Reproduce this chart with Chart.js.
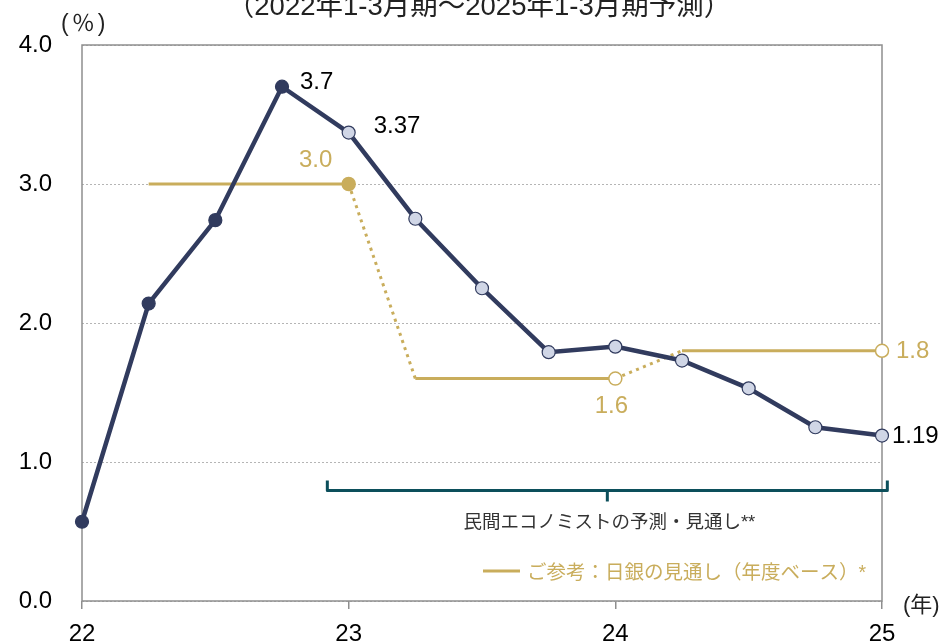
<!DOCTYPE html>
<html>
<head>
<meta charset="utf-8">
<script src="https://cdn.jsdelivr.net/npm/chart.js@4/dist/chart.umd.min.js"></script>
<style>
html,body{margin:0;padding:0;background:#fff;}
#wrap{width:945px;height:643px;position:relative;}
</style>
</head>
<body>
<div id="wrap"><canvas id="c" width="945" height="643"></canvas></div>
<script>
// ---- data ----
const titleText = "（2022年1-3月期～2025年1-3月期予測）";
const quarters = [22, 22.25, 22.5, 22.75, 23, 23.25, 23.5, 23.75, 24, 24.25, 24.5, 24.75, 25];
const econValues = [0.57, 2.14, 2.74, 3.70, 3.37, 2.75, 2.25, 1.79, 1.83, 1.73, 1.53, 1.25, 1.19];
const actualCount = 4; // first 4 points are actual results
const econLabelIdx = [3, 4, 12];
const bojX = [22.25, 23, 23.25, 24, 24.25, 25];
const bojValues = [3.0, 3.0, 1.6, 1.6, 1.8, 1.8];
const bojLabelIdx = [1, 3, 5];
const yTicks = [0, 1, 2, 3, 4];
const xTicks = [22, 23, 24, 25];
const yUnit = "(％)";
const xUnit = "(年)";
const bracketText = "民間エコノミストの予測・見通し**";
const legendText = "ご参考：日銀の見通し（年度ベース）*";

// ---- styles ----
const NAVY = "#313b5e";
const LIGHT = "#d0d6e6";
const GOLD = "#c9ad5c";
const TEAL = "#0c4f5b";
const AXIS = "#8e8e8e";
const LATIN = "'Liberation Sans', Arial, sans-serif";
const CJK = "'Liberation Sans', 'Noto Sans CJK JP', sans-serif";

const econData = quarters.map((q, i) => ({x: q, y: econValues[i]}));
const bojData = bojX.map((q, i) => ({x: q, y: bojValues[i]}));

const annot = {
  id: 'annot',
  beforeDatasetsDraw(chart) {
    const {ctx, chartArea: a} = chart;
    ctx.save();
    ctx.strokeStyle = AXIS;
    ctx.lineWidth = 1.5;
    ctx.strokeRect(a.left, a.top, a.right - a.left, a.bottom - a.top);
    ctx.restore();
  },
  afterDatasetsDraw(chart) {
    const {ctx} = chart;
    const xs = chart.scales.x, ys = chart.scales.y;
    ctx.save();
    // title
    ctx.fillStyle = "#222";
    ctx.font = "27.5px " + CJK;
    ctx.textAlign = "center";
    ctx.textBaseline = "alphabetic";
    ctx.fillText(titleText, 479, 15);
    // units
    ctx.font = "23px " + CJK;
    ctx.textAlign = "left";
    ctx.letterSpacing = "3px";
    ctx.fillText(yUnit, 61, 31);
    ctx.letterSpacing = "0px";
    ctx.font = "22px " + CJK;
    ctx.fillText(xUnit, 903, 612);

    // econ labels
    ctx.fillStyle = "#000";
    ctx.font = "24px " + LATIN;
    const econOff = {3: [18, 2, 'left'], 4: [25, 0, 'left'], 12: [10, 7, 'left']};
    econLabelIdx.forEach(i => {
      const px = xs.getPixelForValue(quarters[i]), py = ys.getPixelForValue(econValues[i]);
      const o = econOff[i];
      ctx.textAlign = o[2];
      ctx.fillText(String(econValues[i]), px + o[0], py + o[1]);
    });
    // boj labels
    ctx.fillStyle = GOLD;
    const bojOff = {1: [-33, -17, 'center'], 3: [-4, 34, 'center'], 5: [14, 7, 'left']};
    bojLabelIdx.forEach(i => {
      const px = xs.getPixelForValue(bojX[i]), py = ys.getPixelForValue(bojValues[i]);
      const o = bojOff[i];
      ctx.textAlign = o[2];
      ctx.fillText(bojValues[i].toFixed(1), px + o[0], py + o[1]);
    });

    // bracket
    const bl = xs.getPixelForValue(22.92), br = xs.getPixelForValue(25.02), bm = xs.getPixelForValue(23.97);
    const by = ys.getPixelForValue(0.795);
    ctx.strokeStyle = TEAL;
    ctx.lineWidth = 3;
    ctx.lineJoin = "round";
    ctx.beginPath();
    ctx.moveTo(bl, by - 10);
    ctx.lineTo(bl, by);
    ctx.lineTo(br, by);
    ctx.lineTo(br, by - 10);
    ctx.stroke();
    ctx.beginPath();
    ctx.moveTo(bm, by);
    ctx.lineTo(bm, by + 11);
    ctx.stroke();
    ctx.fillStyle = "#333";
    ctx.font = "18.5px " + CJK;
    ctx.textAlign = "center";
    ctx.fillText(bracketText, bm + 2, by + 38);

    // legend
    ctx.strokeStyle = GOLD;
    ctx.lineWidth = 3;
    ctx.beginPath();
    ctx.moveTo(483, 571);
    ctx.lineTo(520, 571);
    ctx.stroke();
    ctx.fillStyle = GOLD;
    ctx.font = "19.5px " + CJK;
    ctx.textAlign = "left";
    ctx.fillText(legendText, 527, 579);
    ctx.restore();
  }
};

new Chart(document.getElementById('c'), {
  type: 'line',
  data: {
    datasets: [
      {
        data: econData,
        order: 0,
        borderColor: NAVY,
        borderWidth: 4.5,
        tension: 0,
        pointRadius: 6.5,
        pointBorderWidth: 1.2,
        pointBorderColor: NAVY,
        pointBackgroundColor: ctx => ctx.dataIndex < actualCount ? NAVY : LIGHT,
        clip: false
      },
      {
        data: bojData,
        order: 1,
        borderColor: GOLD,
        borderWidth: 3,
        tension: 0,
        segment: {
          borderDash: ctx => (ctx.p0DataIndex % 2 === 1) ? [3, 4.5] : undefined
        },
        pointRadius: ctx => (ctx.dataIndex % 2 === 1) ? 6.5 : 0,
        pointBorderWidth: 1.5,
        pointBorderColor: GOLD,
        pointBackgroundColor: ctx => ctx.dataIndex === 1 ? GOLD : "#ffffff",
        clip: false
      }
    ]
  },
  options: {
    responsive: false,
    animation: false,
    events: [],
    layout: {padding: {top: 45, right: 63, left: 0, bottom: 0}},
    plugins: {legend: {display: false}, tooltip: {enabled: false}, title: {display: false}},
    scales: {
      x: {
        type: 'linear',
        min: 22, max: 25,
        afterBuildTicks: s => { s.ticks = xTicks.map(v => ({value: v})); },
        afterFit: s => { s.height = 42; },
        ticks: {
          font: {family: LATIN, size: 24},
          color: "#000",
          padding: 11,
          maxRotation: 0,
          callback: v => String(v)
        },
        grid: {drawOnChartArea: false, drawTicks: true, tickLength: 8, color: AXIS, lineWidth: 1.5},
        border: {display: false}
      },
      y: {
        min: 0, max: 4,
        afterBuildTicks: s => { s.ticks = yTicks.map(v => ({value: v})); },
        afterFit: s => { s.width = 82; },
        ticks: {
          font: {family: LATIN, size: 24},
          color: "#000",
          padding: 4,
          callback: v => Number(v).toFixed(1)
        },
        grid: {drawTicks: true, tickLength: 26, tickColor: "rgba(0,0,0,0)", color: "#b5b5b5", lineWidth: 1},
        border: {display: false, dash: [2, 2]}
      }
    }
  },
  plugins: [annot]
});
</script>
</body>
</html>
